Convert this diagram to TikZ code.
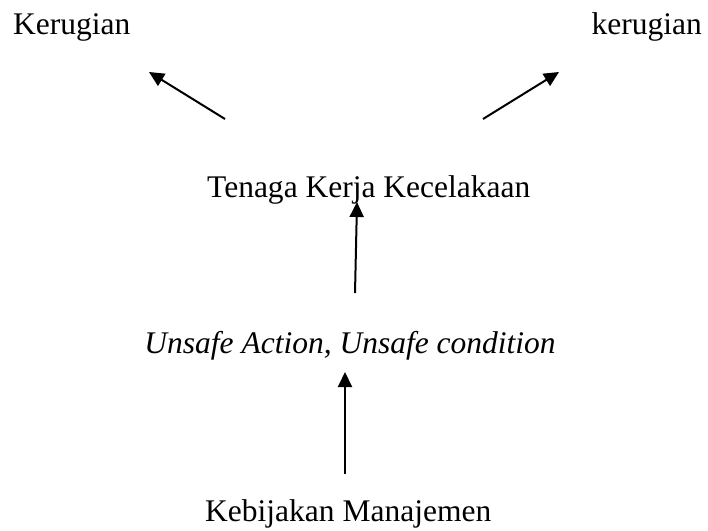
\documentclass[tikz,border=0pt]{standalone}
\usepackage{fontspec}
\setmainfont{Liberation Serif}
\usetikzlibrary{arrows.meta,positioning}

\begin{document}
\begin{tikzpicture}[x=1pt, y=-1pt, >={Triangle[length=15pt, width=14pt]},
    label/.style={inner sep=0pt, font=\fontsize{31.5}{38}\selectfont},
    link/.style={->, line width=2pt}]
  \useasboundingbox (0,0) rectangle (708,530);
  % texts
  \node[label, anchor=base west] (lossL) at (13,34) {Kerugian};
  \node[label, anchor=base east] (lossR) at (702,34) {kerugian};
  \node[label, anchor=base west] (worker) at (207,197) {Tenaga Kerja Kecelakaan};
  \node[label, anchor=base] (unsafe) at (350,353) {\itshape Unsafe Action, Unsafe condition};
  \node[label, anchor=base west] (policy) at (205,521) {Kebijakan Manajemen};
  % arrow ends
  \coordinate (wl) at (225,119);
  \coordinate (wr) at (483,119);
  \coordinate (hl) at (149,72);
  \coordinate (hr) at (559,72);
  \coordinate (ut) at (355,293);
  \coordinate (uh) at (357,202);
  \coordinate (pt) at (345,474);
  \coordinate (ph) at (345,372);
  \draw[link] (wl) -- (hl);
  \draw[link] (wr) -- (hr);
  \draw[link] (ut) -- (uh);
  \draw[link] (pt) -- (ph);
\end{tikzpicture}
\end{document}
